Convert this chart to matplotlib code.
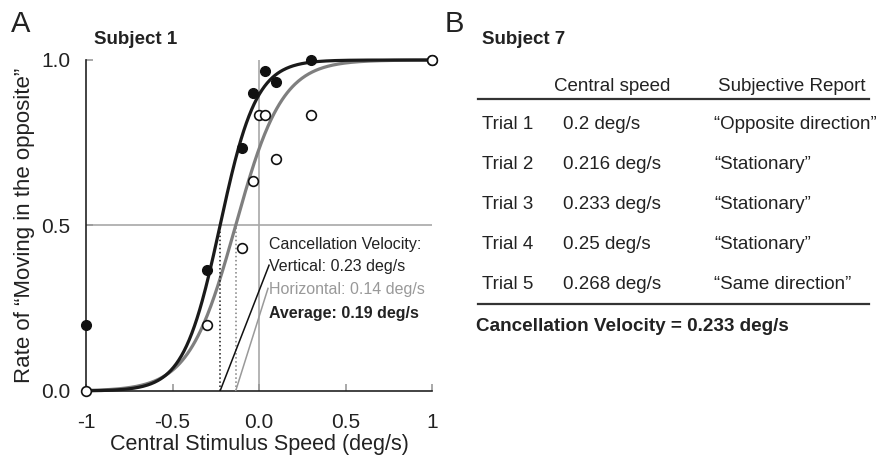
import numpy as np
import matplotlib.pyplot as plt
from matplotlib.lines import Line2D

plt.rcParams['font.family'] = ['Liberation Sans', 'DejaVu Sans']

# Panel A: Subject 1 response rates
vert_speed = [-1, -0.3, -0.1, -0.033, 0.033, 0.1, 0.3, 1]
vert_rate = [0.2, 0.367, 0.733, 0.9, 0.967, 0.933, 1.0, 1.0]
horiz_speed = [-1, -0.3, -0.1, -0.033, 0.0, 0.033, 0.1, 0.3, 1]
horiz_rate = [0.0, 0.2, 0.433, 0.633, 0.833, 0.833, 0.7, 0.833, 1.0]

# fitted psychometric functions (threshold, slope)
vert_fit = (-0.225, 0.105)
horiz_fit = (-0.135, 0.135)

x_ticks = [-1, -0.5, 0, 0.5, 1]
x_ticklabels = ['-1', '-0.5', '0.0', '0.5', '1']
y_ticks = [0, 0.5, 1.0]
y_ticklabels = ['0.0', '0.5', '1.0']

# Panel B: Subject 7 table
trials = ['Trial 1', 'Trial 2', 'Trial 3', 'Trial 4', 'Trial 5']
speeds = ['0.2 deg/s', '0.216 deg/s', '0.233 deg/s', '0.25 deg/s', '0.268 deg/s']
reports = ['\u201cOpposite direction\u201d', '\u201cStationary\u201d', '\u201cStationary\u201d',
           '\u201cStationary\u201d', '\u201cSame direction\u201d']


def logistic(x, mu, s):
    return 1.0 / (1.0 + np.exp(-(x - mu) / s))


W, H = 881, 457
fig = plt.figure(figsize=(W / 100, H / 100), dpi=100)

ax = fig.add_axes([86 / W, 1 - 391 / H, 346 / W, 331 / H])
ax.set_xlim(-1, 1)
ax.set_ylim(0, 1)

# reference lines
ax.plot([-1, 1], [0.5, 0.5], color='#a8a8a8', lw=1.2, zorder=1)
ax.plot([0, 0], [0, 1], color='#a8a8a8', lw=1.2, zorder=1)

xs = np.linspace(-1, 1, 400)
ax.plot(xs, logistic(xs, *horiz_fit), color='#7f7f7f', lw=2.3, zorder=2, clip_on=False)
ax.plot(xs, logistic(xs, *vert_fit), color='#1a1a1a', lw=2.3, zorder=3, clip_on=False)

# threshold markers
ax.plot([vert_fit[0]] * 2, [0, 0.5], color='#1a1a1a', lw=1.1, ls=':', zorder=2)
ax.plot([horiz_fit[0]] * 2, [0, 0.5], color='#7f7f7f', lw=1.1, ls=':', zorder=2)

ax.plot(vert_speed, vert_rate, 'o', ms=7, mfc='#111111', mec='#111111', zorder=5, clip_on=False)
ax.plot(horiz_speed, horiz_rate, 'o', ms=7, mfc='white', mec='#111111', mew=1.2, zorder=6, clip_on=False)

# annotation
ax.plot([vert_fit[0], 0.058], [0, 0.38], color='#111111', lw=1.1, zorder=4)
ax.plot([horiz_fit[0], 0.052], [0, 0.31], color='#999999', lw=1.1, zorder=4)
ax.text(0.058, 0.43, 'Cancellation Velocity:', fontsize=11.5, color='#222222', va='baseline')
ax.text(0.058, 0.363, 'Vertical: 0.23 deg/s', fontsize=11.5, color='#222222', va='baseline')
ax.text(0.058, 0.293, 'Horizontal: 0.14 deg/s', fontsize=11.5, color='#999999', va='baseline')
ax.text(0.058, 0.222, 'Average: 0.19 deg/s', fontsize=11.5, color='#222222',
        fontweight='bold', va='baseline')

ax.spines['top'].set_visible(False)
ax.spines['right'].set_visible(False)
for sp in ('left', 'bottom'):
    ax.spines[sp].set_color('#222222')
    ax.spines[sp].set_linewidth(1.2)
ax.set_xticks(x_ticks)
ax.set_xticklabels(x_ticklabels)
ax.set_yticks(y_ticks)
ax.set_yticklabels(y_ticklabels)
ax.tick_params(direction='in', length=5, width=1.2, color='#999999',
               labelsize=15, labelcolor='#222222')
ax.tick_params(axis='x', pad=16)
ax.tick_params(axis='y', pad=11)
ax.set_xlabel('Central Stimulus Speed (deg/s)', fontsize=15.5, color='#222222', labelpad=1)
ax.set_ylabel('Rate of \u201cMoving in the opposite\u201d', fontsize=16, color='#222222', labelpad=5)

fig.text(11 / W, 1 - 32 / H, 'A', fontsize=21, color='#222222', va='baseline')
fig.text(94 / W, 1 - 44 / H, 'Subject 1', fontsize=13.5, fontweight='bold', color='#222222', va='baseline')

# Panel B
fig.text(445 / W, 1 - 32 / H, 'B', fontsize=21, color='#222222', va='baseline')
fig.text(482 / W, 1 - 44 / H, 'Subject 7', fontsize=13.5, fontweight='bold', color='#222222', va='baseline')
fig.text(554 / W, 1 - 91 / H, 'Central speed', fontsize=13.5, color='#222222', va='baseline')
fig.text(718 / W, 1 - 91 / H, 'Subjective Report', fontsize=13.5, color='#222222', va='baseline')
fig.add_artist(Line2D([478 / W, 869 / W], [1 - 99 / H, 1 - 99 / H], color='#333333', lw=1.6))
for i, (t, s, r) in enumerate(zip(trials, speeds, reports)):
    yb = 1 - (129 + 40 * i) / H
    fig.text(482 / W, yb, t, fontsize=13.5, color='#222222', va='baseline')
    fig.text(563 / W, yb, s, fontsize=13.5, color='#222222', va='baseline')
    fig.text(714 / W, yb, r, fontsize=13.5, color='#222222', va='baseline')
fig.add_artist(Line2D([478 / W, 869 / W], [1 - 304 / H, 1 - 304 / H], color='#333333', lw=1.6))
fig.text(476 / W, 1 - 331 / H, 'Cancellation Velocity = 0.233 deg/s', fontsize=13.6,
         fontweight='bold', color='#222222', va='baseline')

fig.savefig('out.png', dpi=100)
